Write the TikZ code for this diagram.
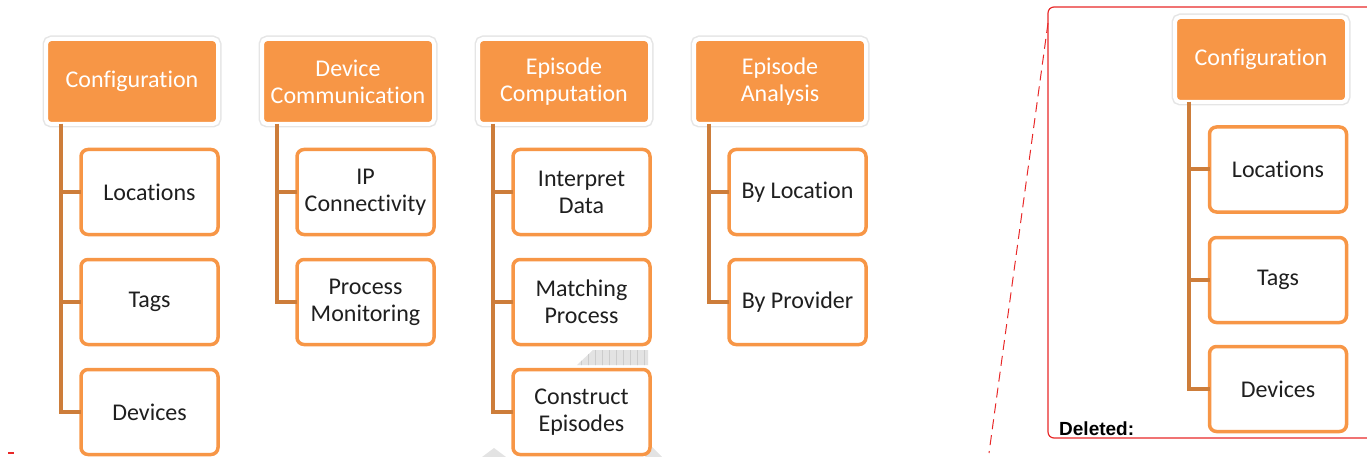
\documentclass[tikz,border=0pt]{standalone}
\usepackage{fontspec}
\setmainfont{Carlito}[Ligatures=NoCommon]
\newfontfamily\arialfont{Liberation Sans}
\definecolor{hdrorange}{RGB}{247,150,70}
\definecolor{boxorange}{RGB}{247,150,70}
\definecolor{linkorange}{RGB}{205,125,58}
\definecolor{delred}{RGB}{232,40,40}
\begin{document}
\begin{tikzpicture}[x=1pt,y=-1pt,
  hdr/.style={rectangle, rounded corners=5pt, fill=hdrorange, draw=white, line width=4pt,
    preaction={draw=black!10, line width=7pt},
    minimum width=172pt, minimum height=85pt, text=white, align=center, inner sep=0pt, outer sep=0pt,
    font=\fontsize{24}{27}\selectfont},
  sub/.style={rectangle, rounded corners=7pt, fill=white, draw=boxorange, line width=3.5pt,
    minimum width=137pt, minimum height=85pt, text=black!88, align=center, inner sep=0pt, outer sep=0pt,
    font=\fontsize{24}{27}\selectfont},
  link/.style={draw=linkorange, line width=4pt},
  gridshape/.style={fill=gray!22}
]
\useasboundingbox (0,0) rectangle (1367,457);

% grey hatched background shapes
\fill[gridshape] (577,365) -- (593,350) -- (648,350) -- (648,365) -- cycle;
\begin{scope}
\clip (577,365) -- (593,350) -- (648,350) -- (648,365) -- cycle;
\draw[gray!40, line width=0.5pt, step=7] (570,343) grid (655,370);
\end{scope}
\fill[gridshape] (482,457) -- (494,448) -- (506,457) -- cycle;
\fill[gridshape] (645,457) -- (652,447) -- (662,457) -- cycle;

% column 1
\node[hdr] (c1) at (132,81.5) {Configuration};
\node[sub] (c1a) at (149.5,192) {Locations};
\node[sub] (c1b) at (149.5,302) {Tags};
\node[sub] (c1c) at (149.5,412) {Devices};
\coordinate (t1) at ([xshift=15pt]c1.south west);
\draw[link] (t1) |- (c1a.west);
\draw[link] (t1) |- (c1b.west);
\draw[link] (t1) |- (c1c.west);

% column 2
\node[hdr] (c2) at (348,81.5) {Device\\Communication};
\node[sub] (c2a) at (365.5,192) {IP\\Connectivity};
\node[sub] (c2b) at (365.5,302) {Process\\Monitoring};
\coordinate (t2) at ([xshift=15pt]c2.south west);
\draw[link] (t2) |- (c2a.west);
\draw[link] (t2) |- (c2b.west);

% column 3
\node[hdr] (c3) at (564,81.5) {Episode\\Computation};
\node[sub] (c3a) at (581.5,192) {Interpret\\Data};
\node[sub] (c3b) at (581.5,302) {Matching\\Process};
\node[sub] (c3c) at (581.5,412) {Construct\\Episodes};
\coordinate (t3) at ([xshift=15pt]c3.south west);
\draw[link] (t3) |- (c3a.west);
\draw[link] (t3) |- (c3b.west);
\draw[link] (t3) |- (c3c.west);

% column 4
\node[hdr] (c4) at (780,81.5) {Episode\\Analysis};
\node[sub] (c4a) at (797.5,192) {By Location};
\node[sub] (c4b) at (797.5,302) {By Provider};
\coordinate (t4) at ([xshift=15pt]c4.south west);
\draw[link] (t4) |- (c4a.west);
\draw[link] (t4) |- (c4b.west);

% deleted panel
\draw[delred, line width=1.2pt, rounded corners=6pt] (1380,7) -- (1048,7) -- (1048,438) -- (1380,438);
\coordinate (p1) at (1048,23);
\coordinate (p2) at (989,453);
\draw[delred, line width=1pt, dash pattern=on 10pt off 6pt] (p1) -- (p2);
\node[hdr] (d1) at (1261,59.5) {Configuration};
\node[sub] (d1a) at (1278,169.5) {Locations};
\node[sub] (d1b) at (1278,280) {Tags};
\node[sub] (d1c) at (1278,389) {Devices};
\coordinate (td) at ([xshift=14pt]d1.south west);
\draw[link] (td) |- (d1a.west);
\draw[link] (td) |- (d1b.west);
\draw[link] (td) |- (d1c.west);
\node[anchor=base west, inner sep=0pt, font=\arialfont\bfseries\fontsize{19}{21}\selectfont] (del) at (1059,435) {Deleted:};

% small red mark
\coordinate (m1) at (8,453);
\coordinate (m2) at (14,453);
\draw[delred, line width=2pt] (m1) -- (m2);
\end{tikzpicture}
\end{document}
